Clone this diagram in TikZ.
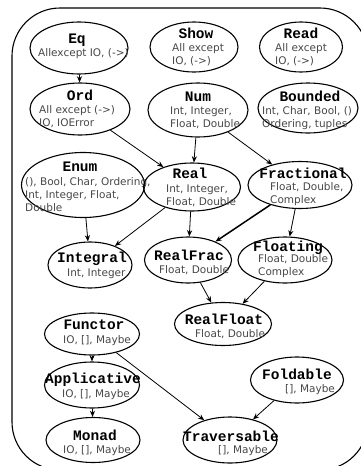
\documentclass[tikz,border=0pt]{standalone}
\usepackage{fontspec}
\setmainfont{DejaVu Sans}
\newfontfamily\clsfont{Liberation Mono}
\usetikzlibrary{arrows.meta,shapes.geometric}
\tikzset{cls/.style={ellipse,draw,line width=1.1pt,inner sep=0pt},
  ttl/.style={inner sep=0pt,font=\clsfont\bfseries\fontsize{14.5}{16}\selectfont},
  inst/.style={inner sep=0pt,anchor=west,align=left,text=black!72,font=\fontsize{10.5}{13}\selectfont},
  arr/.style={-{Stealth[length=2.2mm,width=1.8mm]},line width=0.8pt}}

\begin{document}
\begin{tikzpicture}[x=1pt,y=-1pt]
\useasboundingbox (0,0) rectangle (361,466);
\draw[line width=1.1pt,rounded corners=48pt] (12,8) rectangle (368,470);
% row 1
\node[cls,minimum width=98pt,minimum height=52pt] (eq) at (79,48){};
\node[ttl] (eqT) at (77,40){Eq};
\node[inst] (eqD) at (38,54){Allexcept IO, (->)};
\node[cls,minimum width=88pt,minimum height=50pt] (show) at (194,47){};
\node[ttl] (showT) at (196,33){Show};
\node[inst] (showD) at (172,55){All except\\IO, (->)};
\node[cls,minimum width=83pt,minimum height=50pt] (read) at (301,47){};
\node[ttl] (readT) at (301,33){Read};
\node[inst] (readD) at (275,55){All except\\IO, (->)};
% row 2
\node[cls,minimum width=100pt,minimum height=52pt] (ord) at (80,109){};
\node[ttl] (ordT) at (80,95){Ord};
\node[inst] (ordD) at (39,117){All except (->)\\IO, IOError};
\node[cls,minimum width=100pt,minimum height=54pt] (num) at (198,110){};
\node[ttl] (numT) at (198,97){Num};
\node[inst] (numD) at (170,118){Int, Integer,\\Float, Double};
\node[cls,minimum width=100pt,minimum height=50pt] (bnd) at (308,108){};
\node[ttl] (bndT) at (310,96){Bounded};
\node[inst] (bndD) at (262,118){Int, Char, Bool, ()\\Ordering, tuples};
% row 3
\node[cls,minimum width=123pt,minimum height=65pt] (enm) at (83,185){};
\node[ttl] (enmT) at (80,167){Enum};
\node[inst] (enmD) at (25,195){(), Bool, Char, Ordering,\\Int, Integer, Float,\\Double};
\node[cls,minimum width=97pt,minimum height=48pt] (real) at (192,187){};
\node[ttl] (realT) at (190,173){Real};
\node[inst] (realD) at (166,196){Int, Integer,\\Float, Double};
\node[cls,minimum width=104pt,minimum height=47pt] (frac) at (300,185){};
\node[ttl] (fracT) at (303,173){Fractional};
\node[inst] (fracD) at (270,194){Float, Double,\\Complex};
% row 4
\node[cls,minimum width=84pt,minimum height=46pt] (intg) at (90,265){};
\node[ttl] (intgT) at (92,259){Integral};
\node[inst] (intgD) at (67,274){Int, Integer};
\node[cls,minimum width=87pt,minimum height=46pt] (rfrac) at (188,260){};
\node[ttl] (rfracT) at (189,255){RealFrac};
\node[inst] (rfracD) at (159,270){Float, Double};
\node[cls,minimum width=94pt,minimum height=46pt] (flt) at (285,260){};
\node[ttl] (fltT) at (288,248){Floating};
\node[inst] (fltD) at (258,266){Float, Double\\Complex};
% row 5
\node[cls,minimum width=97pt,minimum height=43pt] (rflt) at (223,324){};
\node[ttl] (rfltT) at (224,319){RealFloat};
\node[inst] (rfltD) at (195,334){Float, Double};
\node[cls,minimum width=95pt,minimum height=42pt] (fun) at (92,334){};
\node[ttl] (funT) at (94,325){Functor};
\node[inst] (funD) at (63,341){IO, [], Maybe};
% bottom rows
\node[cls,minimum width=95pt,minimum height=46pt] (app) at (92,385){};
\node[ttl] (appT) at (93,380){Applicative};
\node[inst] (appD) at (62,395){IO, [], Maybe};
\node[cls,minimum width=94pt,minimum height=45pt] (mon) at (93,440){};
\node[ttl] (monT) at (95,435){Monad};
\node[inst] (monD) at (63,451){IO, [], Maybe};
\node[cls,minimum width=93pt,minimum height=46pt] (fold) at (297,380){};
\node[ttl] (foldT) at (297,374){Foldable};
\node[inst] (foldD) at (285,390){[], Maybe};
\node[cls,minimum width=94pt,minimum height=46pt] (trav) at (230,440){};
\node[ttl] (travT) at (231,436){Traversable};
\node[inst] (travD) at (218,451){[], Maybe};
% superclass arrows
\foreach \a/\b in {eq/ord,ord/real,num/real,num/frac,enm/intg,real/intg,real/rfrac,
  frac/flt,rfrac/rflt,flt/rflt,fun/app,fun/trav,app/mon,fold/trav}
  {\draw[arr] (\a)--(\b);}
\draw[arr,line width=1.5pt] (frac)--(rfrac);
\end{tikzpicture}
\end{document}
